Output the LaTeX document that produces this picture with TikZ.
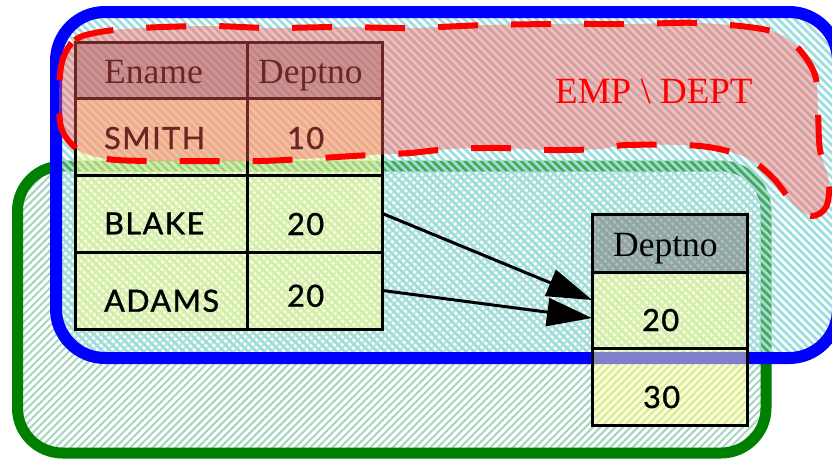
\documentclass[tikz,border=0pt]{standalone}
\usepackage{fontspec}
\setmainfont{Liberation Serif}
\newfontfamily\cellfont[LetterSpace=5,FakeBold=1.2]{Lato}
\usetikzlibrary{arrows.meta,patterns.meta}
\definecolor{hatchB}{RGB}{155,222,222}
\definecolor{hatchG}{RGB}{165,212,190}
\definecolor{blobfill}{RGB}{255,90,90}
\definecolor{cellY}{RGB}{255,255,150}
\definecolor{hdrG}{RGB}{115,115,115}
\definecolor{grn}{RGB}{0,128,0}
\tikzset{
  cell/.style={draw=black, line width=3pt, fill=cellY, fill opacity=0.5, inner sep=0pt, outer sep=0pt},
  hdr/.style={cell, fill=hdrG},
  serifhd/.style={inner sep=0pt, anchor=base west, font=\fontsize{35.5}{40}\selectfont},
  sanstx/.style={inner sep=0pt, anchor=base west, font=\cellfont\fontsize{30.5}{36}\selectfont},
  conn/.style={line width=3pt, -{Triangle[length=45pt,width=28pt]}}
}
\begin{document}
\begin{tikzpicture}[x=1pt,y=-1pt]
\useasboundingbox (0,0) rectangle (832,458);
\clip (0,0) rectangle (832,458);
% green region
\fill[pattern={Lines[angle=45,distance=5.3pt,line width=2pt]}, pattern color=hatchG]
  (17.5,166) [rounded corners=45pt] rectangle (766,453);
\draw[grn, line width=11pt, rounded corners=45pt] (17.5,166) rectangle (766,453);
% blue region
\fill[white, opacity=0.3, rounded corners=49pt] (56,12) rectangle (838,358);
\fill[pattern={Lines[angle=-45,distance=5.7pt,line width=2.8pt]}, pattern color=hatchB, rounded corners=49pt]
  (56,12) rectangle (838,358);
\draw[blue, line width=12pt, rounded corners=49pt] (56,12) rectangle (838,358);
% left table
\node[hdr, minimum width=171.5pt, minimum height=56pt] (hE) at (161.25,70) {};
\node[hdr, minimum width=135.5pt, minimum height=56pt] (hD) at (314.75,70) {};
\node[cell, minimum width=171.5pt, minimum height=77pt] (sN) at (161.25,136.5) {};
\node[cell, minimum width=135.5pt, minimum height=77pt] (s10) at (314.75,136.5) {};
\node[cell, minimum width=171.5pt, minimum height=77pt] (bN) at (161.25,213.5) {};
\node[cell, minimum width=135.5pt, minimum height=77pt] (b20) at (314.75,213.5) {};
\node[cell, minimum width=171.5pt, minimum height=77pt] (aN) at (161.25,290.5) {};
\node[cell, minimum width=135.5pt, minimum height=77pt] (a20) at (314.75,290.5) {};
% right table
\node[hdr, minimum width=155pt, minimum height=58pt] (rH) at (669.5,243) {};
\node[cell, minimum width=155pt, minimum height=76pt] (r20) at (669.5,310) {};
\node[cell, minimum width=155pt, minimum height=77pt] (r30) at (669.5,386.5) {};
% texts
\node[serifhd] (tEname) at (104,83.3) {Ename};
\node[serifhd] (tDept) at (258,83.3) {Deptno};
\node[serifhd] (tRDept) at (613,256.7) {Deptno};
\node[sanstx] (tSmith) at (104,149) {SMITH};
\node[sanstx] (t10) at (287,149) {10};
\node[sanstx] (tBlake) at (104,234.3) {BLAKE};
\node[sanstx] (tB20) at (287,235) {20};
\node[sanstx] (tAdams) at (104,311.7) {ADAMS};
\node[sanstx] (tA20) at (287,306.7) {20};
\node[sanstx] (tR20) at (642,331) {20};
\node[sanstx] (tR30) at (643,408) {30};
% blob
\path[fill=blobfill, fill opacity=0.42, draw=red, line width=6pt, dash pattern=on 40pt off 33pt]
  plot[smooth cycle, tension=0.55] coordinates {
  (62,62) (75,40) (100,32) (140,28) (210,26) (270,28) (340,27) (410,28) (487,25)
  (560,24) (633,24) (700,23) (767,30) (795,45) (815,75) (818,113) (820,150)
  (829,182) (826,207) (812,216) (795,206) (773,178) (745,157) (700,146) (627,145)
  (600,149) (550,150) (500,148) (450,149) (410,153) (370,155) (320,158) (260,161)
  (190,161) (150,161) (117,160) (97,157) (78,150) (62,130) (59,100)};
\node[inner sep=0pt, anchor=base west, text=red, font=\fontsize{37}{42}\selectfont] (tEmp) at (555,103) {EMP \textbackslash\ DEPT};
% connectors
\draw[conn] (b20.east) -- ([yshift=10pt]r20.west);
\draw[conn] (a20.east) -- ([yshift=-8pt]r20.west);
\end{tikzpicture}
\end{document}
